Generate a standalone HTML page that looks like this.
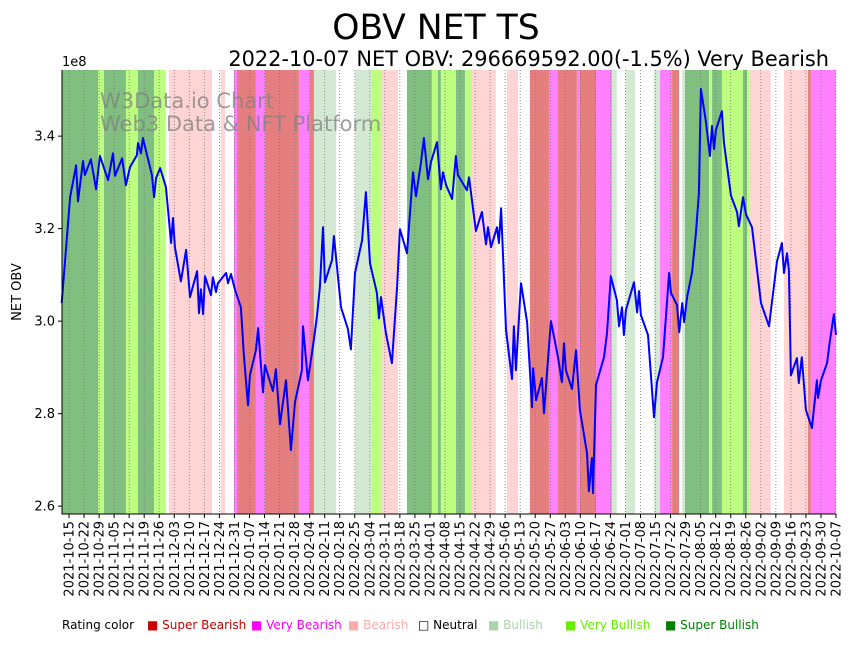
<!DOCTYPE html>
<html><head><meta charset="utf-8"><style>
body{margin:0;background:#fff;width:853px;height:641px;overflow:hidden;font-family:"Liberation Sans","DejaVu Sans",sans-serif}
svg text{font-family:"DejaVu Sans","Liberation Sans",sans-serif}
</style></head><body>
<svg id="chart" width="853" height="641" xmlns="http://www.w3.org/2000/svg">
<text x="436" y="39" font-size="34.6" text-anchor="middle">OBV NET TS</text>
<text x="829" y="66" font-size="20.9" text-anchor="end">2022-10-07 NET OBV: 296669592.00(-1.5%) Very Bearish</text>
<g id="bands"></g><g id="grid"></g>
<text x="100" y="108" font-size="21" fill="#808080" fill-opacity="0.75">W3Data.io Chart</text>
<text x="100" y="131" font-size="21" fill="#808080" fill-opacity="0.75">Web3 Data &amp; NFT Platform</text>
<g id="series"></g><g id="axes"></g>
<text x="62" y="66" font-size="13">1e8</text>
<text transform="translate(21,292) rotate(-90)" font-size="13" text-anchor="middle">NET OBV</text>
<g font-size="12">
<text x="62" y="629">Rating color</text>
<text x="147" y="629" fill="#cc0000">■ Super Bearish</text>
<text x="251" y="629" fill="#ff00ff">■ Very Bearish</text>
<text x="348" y="629" fill="#ffaaaa">■ Bearish</text>
<text x="418" y="629" fill="#000">□ Neutral</text>
<text x="488" y="629" fill="#aad4aa">■ Bullish</text>
<text x="565" y="629" fill="#66ee00">■ Very Bullish</text>
<text x="665" y="629" fill="#008000">■ Super Bullish</text>
</g>
</svg>
<script>
const days=[-3.4,0.5,3.3,4.2,6.5,7.4,10.2,12.6,14.4,18.2,20.5,21.4,24.7,26.5,28.4,31.6,32.1,33.5,34.4,38.6,39.6,40.5,42.4,45.1,47.5,48.4,49.3,52.1,54.5,56.3,59.6,60.5,61.4,62.4,63.3,66.1,67.0,68.4,69.3,73.1,74.0,75.4,77.3,80.0,81.4,83.3,84.2,87.0,88.0,90.3,91.2,94.9,96.3,98.2,101.0,103.3,105.2,108.4,108.9,111.2,113.6,115.4,116.8,118.2,119.1,122.4,123.3,126.6,129.8,131.2,133.1,136.4,138.2,140.1,143.3,144.3,145.2,147.5,150.3,152.7,154.0,157.3,160.1,161.5,163.8,165.2,167.1,168.5,171.3,173.1,174.1,175.5,178.3,180.1,181.0,185.2,186.2,189.4,192.2,194.1,195.0,196.4,199.2,200.1,201.1,203.4,206.2,207.1,208.0,210.4,213.2,215.5,216.0,217.4,220.1,221.1,224.3,227.6,229.4,230.4,231.3,234.1,236.0,237.8,241.1,242.0,243.4,243.9,245.3,249.0,250.4,252.2,255.0,256.0,257.4,258.3,259.2,263.0,264.4,265.3,266.2,269.5,272.3,273.7,276.5,279.3,280.2,283.0,284.0,285.4,286.3,287.7,290.0,291.8,293.2,294.1,296.5,298.3,299.3,300.2,301.1,303.9,304.8,308.1,310.9,311.8,313.7,315.1,317.9,319.7,322.1,325.8,329.5,331.8,332.8,334.2,335.1,336.0,338.8,339.7,341.1,343.0,345.8,348.1,348.6,350.0,352.8,354.2,356.0,357.0];
const obv=[3.039,3.268,3.337,3.259,3.346,3.316,3.350,3.285,3.357,3.305,3.363,3.314,3.352,3.294,3.333,3.359,3.385,3.363,3.396,3.316,3.268,3.309,3.331,3.290,3.169,3.223,3.160,3.086,3.154,3.052,3.108,3.017,3.069,3.015,3.097,3.056,3.095,3.063,3.082,3.104,3.082,3.102,3.067,3.030,2.926,2.818,2.883,2.937,2.985,2.846,2.905,2.849,2.896,2.777,2.872,2.721,2.825,2.894,2.989,2.872,2.948,3.009,3.074,3.203,3.084,3.132,3.184,3.030,2.983,2.939,3.104,3.175,3.279,3.125,3.061,3.006,3.052,2.974,2.909,3.074,3.199,3.147,3.322,3.270,3.342,3.396,3.307,3.344,3.387,3.285,3.322,3.294,3.264,3.357,3.316,3.283,3.311,3.195,3.236,3.166,3.203,3.160,3.203,3.169,3.244,2.981,2.875,2.989,2.894,3.082,2.998,2.814,2.898,2.829,2.877,2.801,3.000,2.922,2.868,2.952,2.894,2.853,2.937,2.808,2.715,2.632,2.704,2.628,2.862,2.922,2.974,3.097,3.045,2.989,3.030,2.970,3.024,3.084,3.019,3.065,3.013,2.970,2.792,2.868,2.922,3.104,3.061,3.035,2.976,3.039,2.998,3.052,3.106,3.190,3.277,3.502,3.430,3.357,3.422,3.372,3.413,3.454,3.387,3.272,3.236,3.205,3.268,3.231,3.203,3.132,3.039,2.989,3.128,3.169,3.104,3.147,3.110,2.883,2.920,2.866,2.922,2.808,2.769,2.872,2.834,2.872,2.909,2.959,3.015,2.970];
const bandStarts=[-3.3,13.5,16.3,26.5,32.1,39.6,45.1,46.5,66.6,70.7,72.6,76.8,78.2,87.0,91.2,107.0,112.2,114.0,124.3,133.1,140.6,145.7,153.1,157.3,168.9,171.7,173.1,180.1,184.3,187.6,198.7,203.8,209.0,214.5,223.4,227.6,236.4,237.8,245.3,252.7,255.0,259.2,263.4,272.3,275.1,280.7,284.0,285.4,286.8,298.0,299.3,303.9,313.7,315.6,316.9,326.7,332.8,344.0,345.3];
const bandRatings=["SBull","VBull","SBull","VBull","SBull","VBull","Neutral","Bear","Neutral","Bear","Neutral","VBear","SBear","VBear","SBear","VBear","SBear","Bull","Neutral","Bull","VBull","Bear","Neutral","SBull","VBull","SBull","VBull","SBull","VBull","Bear","Neutral","Bear","Neutral","SBear","VBear","SBear","VBear","SBear","VBear","Bull","Neutral","Bull","Neutral","Bull","VBear","SBear","Neutral","Bull","SBull","VBull","SBull","VBull","SBull","VBull","Bear","Neutral","Bear","SBear","VBear"];
const yTicks=[2.6,2.8,3.0,3.2,3.4];
const tickStartDate=new Date(Date.UTC(2021,9,15));
const tickCount=52;

const colors={SBull:"#80bf80",VBull:"#bdfd80",Bull:"#d4e9d4",Neutral:"#ffffff",Bear:"#ffd4d4",VBear:"#ff80ff",SBear:"#e57f7f"};
const X0=62,X1=836,Y0=70,Y1=514,DMIN=-3.26,DMAX=357,VMIN=2.583,VMAX=3.543;
function xs(d){return X0+(d-DMIN)/(DMAX-DMIN)*(X1-X0);}
function ys(v){return Y1-(v-VMIN)/(VMAX-VMIN)*(Y1-Y0);}
const NS="http://www.w3.org/2000/svg";
function mk(t,a,p){const e=document.createElementNS(NS,t);for(const k in a)e.setAttribute(k,a[k]);p.appendChild(e);return e;}
const bands=document.getElementById('bands');
for(let i=0;i<bandStarts.length;i++){
  const s=Math.max(bandStarts[i],DMIN),e=i+1<bandStarts.length?bandStarts[i+1]:DMAX;
  const r=mk('rect',{x:xs(s),y:Y0,width:Math.max(0,xs(e)-xs(s)),height:Y1-Y0,fill:colors[bandRatings[i]]},bands);
  
  
}
const grid=document.getElementById('grid'),axes=document.getElementById('axes');
for(let i=0;i<tickCount;i++){
  const d=i*7,x=xs(d);
  const g=mk('line',{x1:x,x2:x,y1:Y0,y2:Y1,stroke:'#777','stroke-width':0.8,'stroke-dasharray':'1,2'},grid);
  
  
  mk('line',{x1:x,x2:x,y1:Y1,y2:Y1+4,stroke:'#000'},axes);
  const dt=new Date(tickStartDate.getTime()+d*86400000);
  const lab=dt.toISOString().slice(0,10);
  const t=mk('text',{transform:`translate(${x+4.5},${Y1+7}) rotate(-90)`,'font-size':13,'text-anchor':'end'},axes);
  t.textContent=lab;
  
  
}
yTicks.forEach(v=>{
  const y=ys(v);
  mk('line',{x1:X0-4,x2:X0,y1:y,y2:y,stroke:'#000'},axes);
  const t=mk('text',{x:X0-7,y:y+4.5,'font-size':13,'text-anchor':'end'},axes);
  t.textContent=v.toFixed(1);
  
  
});
const ax=mk('path',{d:`M${X0},${Y0}V${Y1}H${X1}`,fill:'none',stroke:'#000','stroke-width':1},axes);


const pts=days.map((d,i)=>xs(d).toFixed(1)+','+ys(obv[i]).toFixed(1)).join(' ');
const line=mk('polyline',{points:pts,fill:'none',stroke:'#0000ff','stroke-width':2,'stroke-linejoin':'round'},document.getElementById('series'));


</script>
</body></html>
